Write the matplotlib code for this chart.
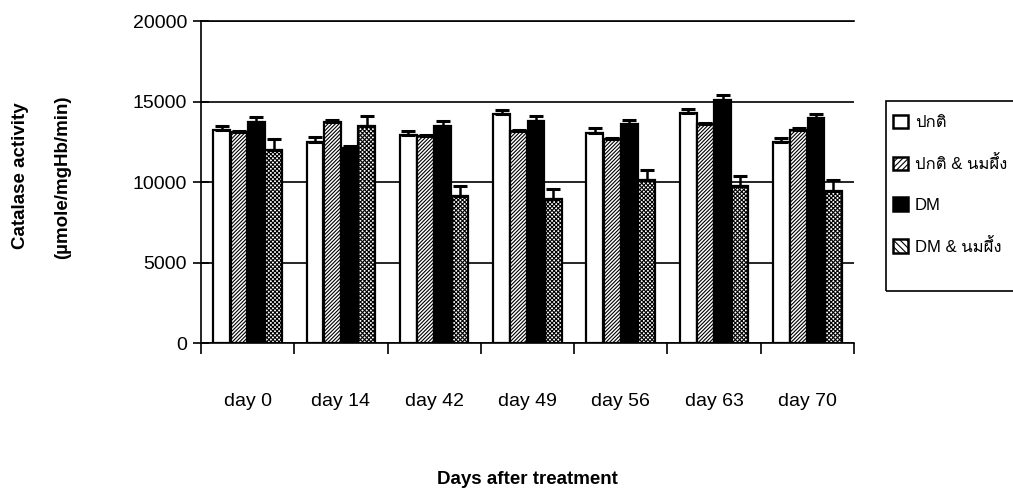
import numpy as np
import matplotlib
matplotlib.use("Agg")
import matplotlib.pyplot as plt
from matplotlib.patches import Patch, Rectangle
from matplotlib.font_manager import FontProperties

# --- Datos ---
days = ['day 0', 'day 14', 'day 42', 'day 49', 'day 56', 'day 63', 'day 70']
series_names = ['ปกติ', 'ปกติ & นมผึ้ง', 'DM', 'DM & นมผึ้ง']

normal = [13200, 12500, 12900, 14250, 13050, 14280, 12480]
normal_err = [280, 280, 240, 250, 290, 270, 250]
normal_honey = [13100, 13750, 12850, 13150, 12650, 13600, 13250]
normal_honey_err = [80, 80, 80, 80, 80, 80, 80]
dm = [13750, 12100, 13500, 13800, 13600, 15100, 13950]
dm_err = [300, 150, 300, 330, 260, 280, 300]
dm_honey = [12000, 13450, 9150, 8950, 10150, 9780, 9470]
dm_honey_err = [650, 650, 620, 620, 620, 620, 650]

yticks = [0, 5000, 10000, 15000, 20000]

plt.rcParams['font.family'] = ['Liberation Sans', 'Loma']
plt.rcParams['hatch.linewidth'] = 0.8

fig = plt.figure(figsize=(10.13, 4.98), dpi=100)
ax = fig.add_axes([0.1984, 0.3112, 0.6446, 0.6466])

x = np.arange(len(days))
w = 0.18
step = 0.185
values = [normal, normal_honey, dm, dm_honey]
errors = [normal_err, normal_honey_err, dm_err, dm_honey_err]
faces = ['white', 'white', 'black', 'white']
hatches = [None, '/////////', None, 'xxxxxxxx']

for i, (vals, errs) in enumerate(zip(values, errors)):
    pos = x + (i - 1.5) * step
    ax.bar(pos, vals, width=w, color=faces[i], edgecolor='black',
           linewidth=1.6, hatch=hatches[i], zorder=3)
    ax.errorbar(pos, vals, yerr=[np.zeros(len(errs)), errs], fmt='none',
                ecolor='black', elinewidth=1.8, capsize=5, capthick=2.2,
                zorder=4)

# --- Ejes ---
ax.set_xlim(-0.5, len(days) - 0.5)
ax.set_ylim(0, 20000)
ax.set_yticks(yticks)
ax.set_yticklabels([str(v) for v in yticks], fontsize=14)
ax.set_xticks(x)
ax.set_xticklabels(days, fontsize=14)
ax.set_xticks(np.arange(-0.5, len(days)), minor=True)
ax.tick_params(axis='x', which='major', length=0, pad=36)
ax.tick_params(axis='x', which='minor', direction='out', length=8, width=1.2)
ax.tick_params(axis='y', direction='inout', length=12, width=1.2, pad=4)
ax.yaxis.grid(True, color='black', linewidth=1.2, zorder=0)
ax.set_axisbelow(True)
ax.spines['right'].set_visible(False)
for sp in ['left', 'bottom', 'top']:
    ax.spines[sp].set_linewidth(1.2)

fig.text(0.02, 0.648, 'Catalase activity', rotation=90, ha='center',
         va='center', fontsize=13.5, fontweight='bold')
fig.text(0.062, 0.645, '(µmole/mgHb/min)', rotation=90, ha='center',
         va='center', fontsize=13.5, fontweight='bold')
fig.text(0.521, 0.038, 'Days after treatment', ha='center', va='center',
         fontsize=13.5, fontweight='bold')

# --- Leyenda (marco dibujado aparte) ---
handles = [
    Patch(facecolor='white', edgecolor='black', linewidth=1.8),
    Patch(facecolor='white', edgecolor='black', linewidth=1.8, hatch='//////'),
    Patch(facecolor='black', edgecolor='black', linewidth=1.8),
    Patch(facecolor='white', edgecolor='black', linewidth=1.8, hatch='\\\\\\\\\\'),
]
fig.legend(handles, series_names, loc='upper left',
           bbox_to_anchor=(0.8815, 0.770),
           prop=FontProperties(family=['Liberation Sans', 'Loma'], size=12),
           frameon=False, handlelength=0.9, handleheight=0.9,
           handletextpad=0.4, labelspacing=1.5, borderpad=0,
           borderaxespad=0)
fig.patches.append(Rectangle((0.8746, 0.4157), 0.14, 0.3815,
                             transform=fig.transFigure, fill=False,
                             edgecolor='black', linewidth=1.2))

fig.savefig('out.png', dpi=100)
